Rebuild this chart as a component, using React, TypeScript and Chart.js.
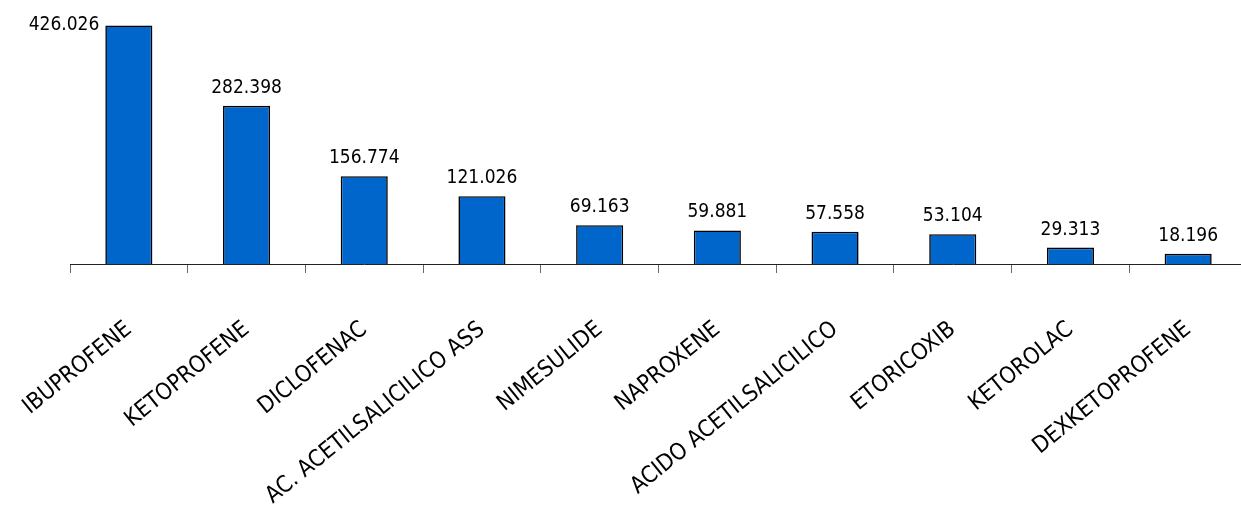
import React, { useEffect, useRef } from "react";
import { Chart, registerables } from "chart.js";

Chart.register(...registerables);

const categories = [
  "IBUPROFENE",
  "KETOPROFENE",
  "DICLOFENAC",
  "AC. ACETILSALICILICO ASS",
  "NIMESULIDE",
  "NAPROXENE",
  "ACIDO ACETILSALICILICO",
  "ETORICOXIB",
  "KETOROLAC",
  "DEXKETOPROFENE",
];

const values = [426.026, 282.398, 156.774, 121.026, 69.163, 59.881, 57.558, 53.104, 29.313, 18.196];

const valueLabels = ["426.026", "282.398", "156.774", "121.026", "69.163", "59.881", "57.558", "53.104", "29.313", "18.196"];

const FONT = "'DejaVu Sans Condensed', 'Liberation Sans Narrow', 'DejaVu Sans', sans-serif";
const VALUE_FONT_SIZE = 19;
const TICK_FONT_SIZE = 23;

const valueLabelPlugin = {
  id: "valueLabels",
  afterDatasetsDraw(chart: any) {
    const ctx = chart.ctx;
    const meta = chart.getDatasetMeta(0);
    ctx.save();
    ctx.font = `normal ${VALUE_FONT_SIZE}px ${FONT}`;
    ctx.fillStyle = "#000";
    meta.data.forEach((bar: any, i: number) => {
      const text = valueLabels[i];
      const capH = VALUE_FONT_SIZE * 0.73;
      const gap = 13;
      if (bar.y - gap - capH < 0) {
        ctx.textAlign = "right";
        ctx.textBaseline = "middle";
        ctx.fillText(text, bar.x - bar.width / 2 - 6, bar.y);
      } else {
        ctx.textAlign = "center";
        ctx.textBaseline = "alphabetic";
        ctx.fillText(text, bar.x, bar.y - gap);
      }
    });
    ctx.restore();
  },
};

export default function App() {
  const ref = useRef<HTMLCanvasElement | null>(null);

  useEffect(() => {
    if (!ref.current) return;
    const chart = new Chart(ref.current, {
      type: "bar",
      data: {
        labels: categories,
        datasets: [
          {
            data: values,
            backgroundColor: "#0066CC",
            borderColor: "#000000",
            borderWidth: 1.6,
            barPercentage: 0.4,
            categoryPercentage: 1,
          },
        ],
      },
      options: {
        animation: false,
        responsive: false,
        maintainAspectRatio: false,
        layout: { padding: { left: 70, right: 13, top: 12, bottom: 0 } },
        plugins: {
          legend: { display: false },
          tooltip: { enabled: false },
        },
        scales: {
          x: {
            offset: true,
            border: { display: true, color: "#222", width: 1 },
            grid: {
              display: true,
              offset: true,
              drawOnChartArea: false,
              drawTicks: true,
              tickLength: 9,
              color: "#666",
            },
            ticks: {
              autoSkip: false,
              minRotation: 39,
              maxRotation: 39,
              padding: 43,
              color: "#000",
              font: { family: FONT, size: TICK_FONT_SIZE },
            },
            afterFit(scale: any) {
              scale.height = 251;
              scale.paddingLeft = 0;
              scale.paddingRight = 0;
            },
          },
          y: {
            display: false,
            min: 0,
            max: 450,
          },
        },
      },
      plugins: [valueLabelPlugin],
    } as any);
    return () => chart.destroy();
  }, []);

  return (
    <div style={{ position: "absolute", left: 0, top: 0, width: 1241, height: 515, overflow: "hidden" }}>
      <canvas ref={ref} width={1260} height={515} style={{ display: "block" }} />
    </div>
  );
}
